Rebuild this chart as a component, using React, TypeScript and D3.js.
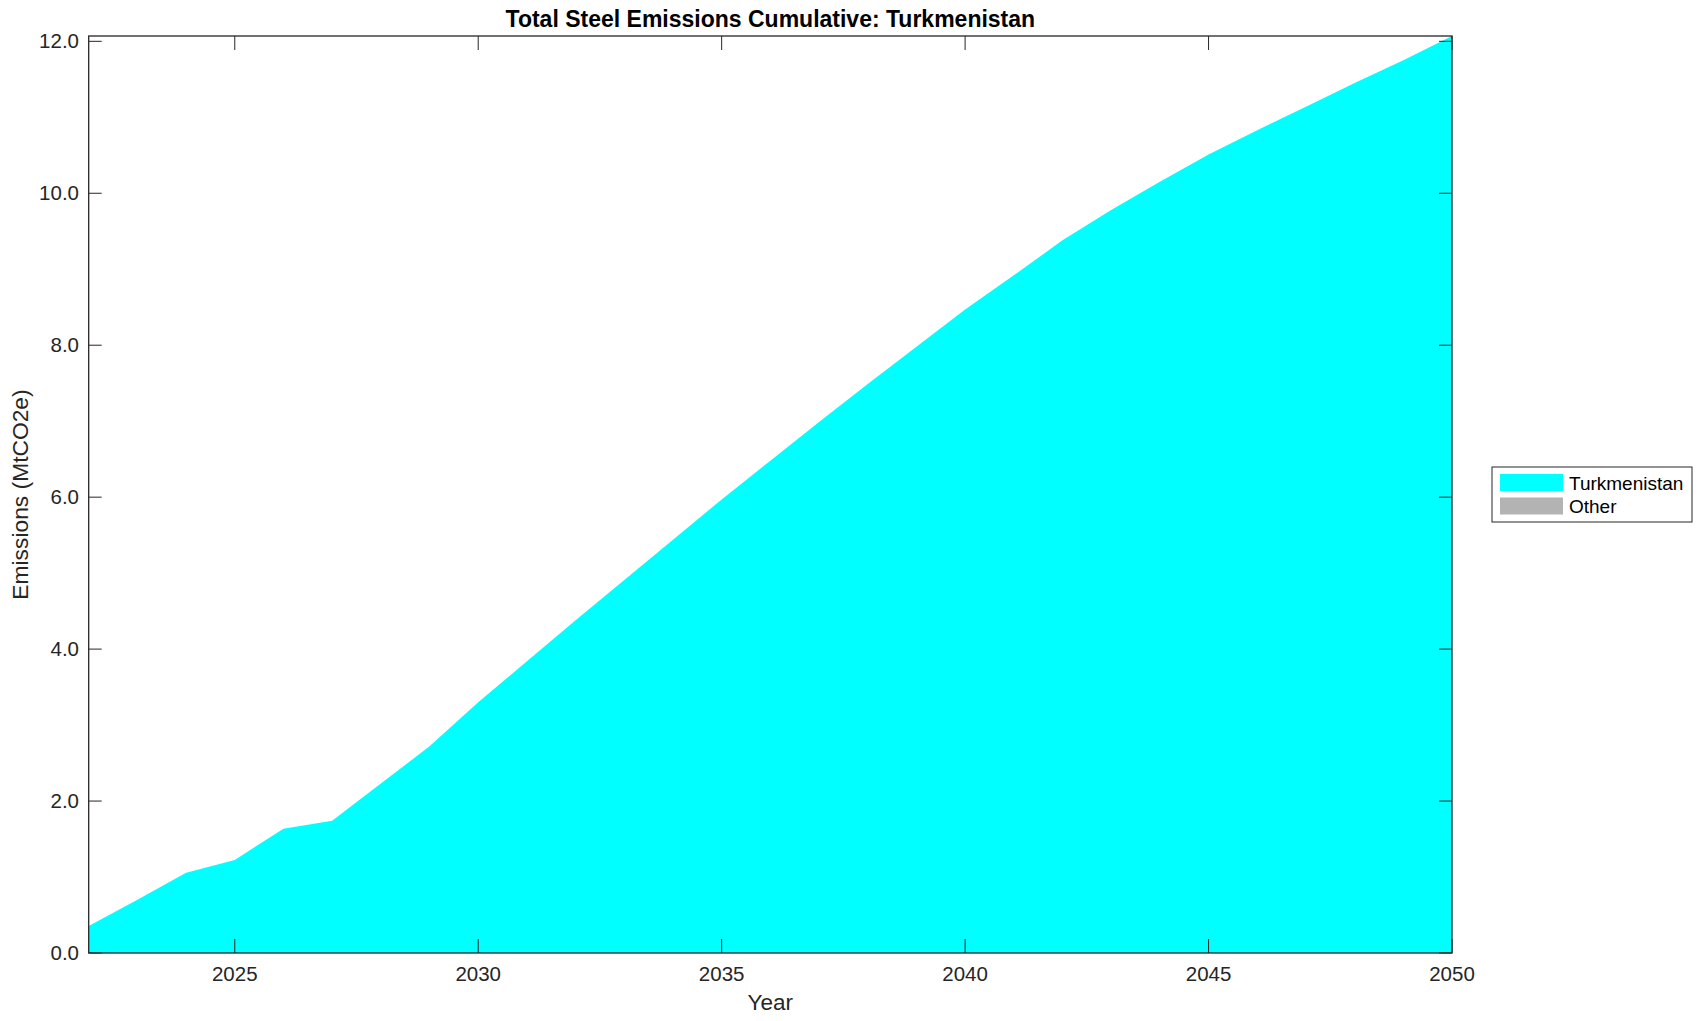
import React from "react";
import * as d3 from "d3";

const years = [2022,2023,2024,2025,2026,2027,2028,2029,2030,2031,2032,2033,2034,2035,2036,2037,2038,2039,2040,2041,2042,2043,2044,2045,2046,2047,2048,2049,2050];
const turkmenistan = [0.355,0.70,1.057,1.224,1.637,1.742,2.23,2.72,3.30,3.84,4.38,4.91,5.44,5.97,6.48,6.99,7.49,7.98,8.47,8.92,9.38,9.78,10.15,10.51,10.83,11.14,11.45,11.75,12.07];
const xTicks = [2025,2030,2035,2040,2045,2050];
const yTicks = [0,2,4,6,8,10,12];
const legendLabels = ["Turkmenistan","Other"];
const legendColors = ["#00ffff","#b3b3b3"];
const title = "Total Steel Emissions Cumulative: Turkmenistan";

export default function App() {
  const W = 1703, H = 1021;
  const L = 88.7, R = 1452, T = 36, B = 953;
  const ink = "#262626";
  const font = "'Liberation Sans', Arial, Helvetica, sans-serif";
  const x = d3.scaleLinear().domain([years[0], years[years.length - 1]]).range([L, R]);
  const y = d3.scaleLinear().domain([0, d3.max(turkmenistan) as number]).range([B, T]);
  const data = years.map((yr, i) => ({ yr, v: turkmenistan[i] }));
  const area = d3.area<{ yr: number; v: number }>()
    .x(d => x(d.yr))
    .y0(y(0))
    .y1(d => y(d.v))
    .curve(d3.curveLinear);
  const fmt = d3.format(".1f");
  const xtl = 14, ytl = 13;
  return (
    <svg width={W} height={H} style={{ position: "absolute", left: 0, top: 0, background: "#fff" }} fontFamily={font}>
      <rect x={0} y={0} width={W} height={H} fill="#fff" />
      <path d={area(data) || ""} fill={legendColors[0]} stroke="none" />
      {xTicks.map(t => (
        <g key={"x" + t}>
          <line x1={x(t)} x2={x(t)} y1={B} y2={B - xtl} stroke={ink} strokeWidth={1} />
          <line x1={x(t)} x2={x(t)} y1={T} y2={T + xtl} stroke={ink} strokeWidth={1} />
          <text x={x(t)} y={981} textAnchor="middle" fontSize={20.5} fill={ink}>{t}</text>
        </g>
      ))}
      {yTicks.map(t => (
        <g key={"y" + t}>
          <line x1={L} x2={L + ytl} y1={y(t)} y2={y(t)} stroke={ink} strokeWidth={1} />
          <line x1={R} x2={R - ytl} y1={y(t)} y2={y(t)} stroke={ink} strokeWidth={1} />
          <text x={79} y={y(t) + 7} textAnchor="end" fontSize={20.5} fill={ink}>{fmt(t)}</text>
        </g>
      ))}
      <rect x={L} y={T} width={R - L} height={B - T} fill="none" stroke={ink} strokeWidth={1.3} />
      <text x={(L + R) / 2} y={1010} textAnchor="middle" fontSize={22.5} fill={ink}>Year</text>
      <text transform={`translate(28,${(T + B) / 2}) rotate(-90)`} textAnchor="middle" fontSize={22.8} fill={ink}>Emissions (MtCO2e)</text>
      <text x={(L + R) / 2} y={27} textAnchor="middle" fontSize={23} fontWeight="bold" fill="#000">{title}</text>
      <rect x={1492} y={467} width={200} height={55} fill="#fff" stroke={ink} strokeWidth={1} />
      {legendLabels.map((lab, i) => (
        <g key={lab}>
          <rect x={1500} y={474 + i * 23.5} width={63} height={17} fill={legendColors[i]} />
          <text x={1569} y={490 + i * 23.3} fontSize={19} fill="#000">{lab}</text>
        </g>
      ))}
    </svg>
  );
}
